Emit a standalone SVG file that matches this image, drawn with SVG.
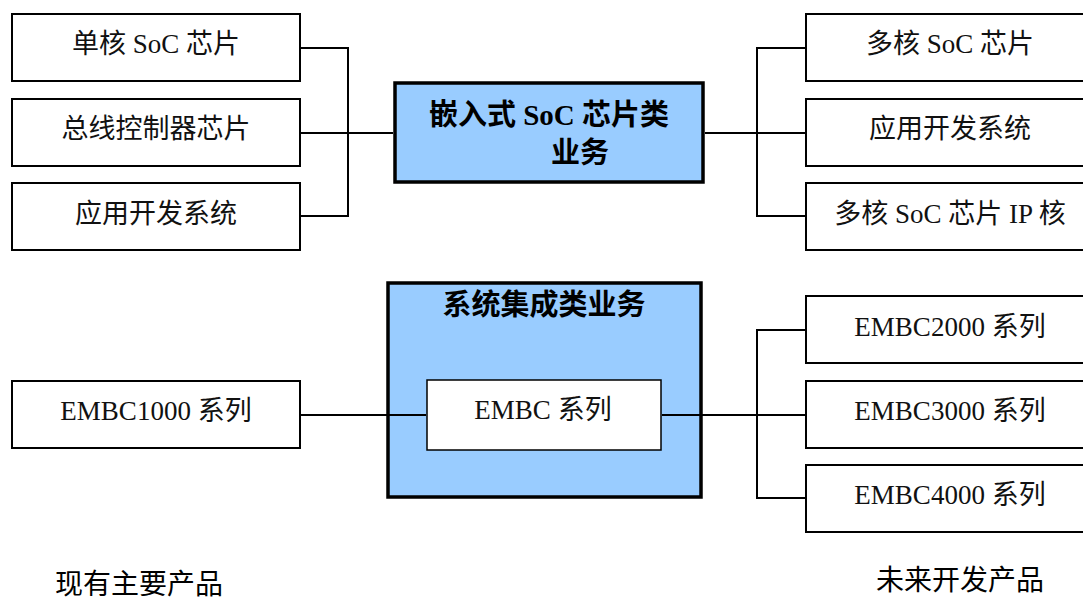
<svg xmlns="http://www.w3.org/2000/svg" width="1083" height="601" viewBox="0 0 1083 601">
<style>
.box{fill:#fff;stroke:#000;stroke-width:2}
.main{fill:#99CCFF;stroke:#000;stroke-width:3.5}
.inner{fill:#fff;stroke:#000;stroke-width:1.5}
.t{font-family:"Liberation Serif","Noto Sans CJK SC",serif;font-size:27px;fill:#111;text-anchor:middle}
.b{font-family:"Liberation Serif","Noto Sans CJK SC",serif;font-size:29px;font-weight:bold;fill:#000;text-anchor:middle}
.lbl{font-family:"Noto Sans CJK SC",sans-serif;font-size:28px;fill:#000}
.c{fill:none;stroke:#000;stroke-width:2}
</style>
<rect width="1083" height="601" fill="#fff"/>
<g id="n-single"><rect class="box" x="12" y="14" width="288" height="67"/><text class="t" x="156" y="53">单核 SoC 芯片</text></g>
<g id="n-bus"><rect class="box" x="12" y="99" width="288" height="67"/><text class="t" x="156" y="138">总线控制器芯片</text></g>
<g id="n-app-l"><rect class="box" x="12" y="183" width="288" height="67"/><text class="t" x="156" y="223">应用开发系统</text></g>
<g id="n-soc"><rect class="main" x="395" y="83" width="308" height="99"/><text class="b" x="549" y="125">嵌入式 SoC 芯片类</text><text class="b" x="580" y="163">业务</text></g>
<g id="n-multi"><rect class="box" x="806" y="14" width="288" height="67"/><text class="t" x="950" y="53">多核 SoC 芯片</text></g>
<g id="n-app-r"><rect class="box" x="806" y="99" width="288" height="67"/><text class="t" x="950" y="138">应用开发系统</text></g>
<g id="n-ip"><rect class="box" x="806" y="183" width="288" height="67"/><text class="t" x="950" y="223">多核 SoC 芯片 IP 核</text></g>
<g id="n-sys"><rect class="main" x="388" y="283" width="313" height="214"/><text class="b" x="544" y="315">系统集成类业务</text></g>
<g id="n-embc"><rect class="inner" x="427" y="380" width="234" height="70"/><text class="t" x="543" y="419">EMBC 系列</text></g>
<g id="n-1000"><rect class="box" x="12" y="381" width="288" height="67"/><text class="t" x="156" y="420">EMBC1000 系列</text></g>
<g id="n-2000"><rect class="box" x="806" y="296" width="288" height="67"/><text class="t" x="950" y="336">EMBC2000 系列</text></g>
<g id="n-3000"><rect class="box" x="806" y="381" width="288" height="67"/><text class="t" x="950" y="420">EMBC3000 系列</text></g>
<g id="n-4000"><rect class="box" x="806" y="465" width="288" height="67"/><text class="t" x="950" y="504">EMBC4000 系列</text></g>
<g id="connectors">
<path class="c" d="M301 48H348V216H301M301 133H393"/>
<path class="c" d="M705 133H805M805 48H757V216H805"/>
<path class="c" d="M301 415H426"/>
<path class="c" d="M662 415H805M805 330H757V498H805"/>
</g>
<g id="labels">
<text class="lbl" x="55" y="594">现有主要产品</text>
<text class="lbl" x="876" y="590">未来开发产品</text>
</g>
</svg>
